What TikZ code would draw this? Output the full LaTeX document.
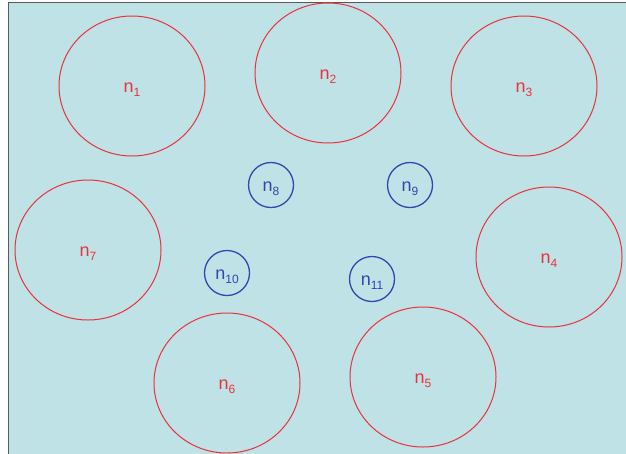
\documentclass[tikz,border=0pt]{standalone}
\usepackage{fontspec}
\setmainfont{Liberation Sans}
\usetikzlibrary{shapes.geometric}
\definecolor{bg}{RGB}{190,226,230}
\definecolor{rc}{RGB}{235,50,58}
\definecolor{bc}{RGB}{50,70,175}
\definecolor{fr}{RGB}{90,90,90}
\newcommand{\lab}[1]{\raisebox{-3.5pt}[\height][\depth]{n\raisebox{-0.45ex}{\fontsize{12}{12}\selectfont #1}}}
\tikzset{
  big/.style={draw=rc, line width=1pt, ellipse, minimum width=146pt, minimum height=140pt, inner sep=0pt, text=rc, font=\fontsize{18}{18}\selectfont},
  small/.style={draw=bc, line width=1.3pt, circle, minimum size=45pt, inner sep=0pt, text=bc, font=\fontsize{18}{18}\selectfont}
}
\begin{document}
\begin{tikzpicture}[x=1pt,y=-1pt]
\useasboundingbox (0,0) rectangle (626,453);
\begin{scope}
\clip (0,0) rectangle (626,453);
\fill[white] (0,0) rectangle (626,453);
\draw[fill=bg, draw=fr, line width=1.5pt] (8.5,2.5) rectangle (640,470);
\end{scope}
\node[big] (n1) at (132,86) {\lab{1}};
\node[big] (n2) at (328,73) {\lab{2}};
\node[big] (n3) at (524,86) {\lab{3}};
\node[big] (n4) at (549,257) {\lab{4}};
\node[big] (n5) at (423,377) {\lab{5}};
\node[big] (n6) at (227,383) {\lab{6}};
\node[big] (n7) at (88,250) {\lab{7}};
\node[small] (n8) at (271,185) {\lab{8}};
\node[small] (n9) at (410,185) {\lab{9}};
\node[small] (n10) at (227,273) {\lab{10}};
\node[small] (n11) at (372,279) {\lab{11}};
\end{tikzpicture}
\end{document}
